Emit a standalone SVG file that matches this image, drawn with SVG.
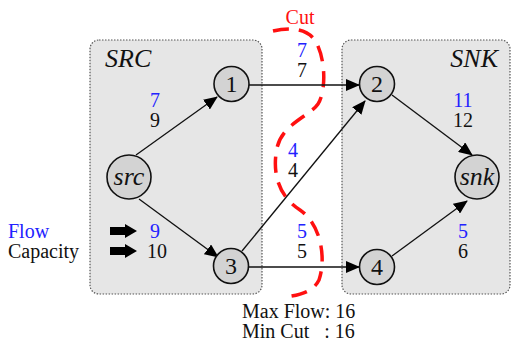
<svg xmlns="http://www.w3.org/2000/svg" width="512" height="347" viewBox="0 0 512 347" font-family="'Liberation Serif', 'DejaVu Serif', serif">
<style>
.box{fill:#e6e6e6;stroke:#555;stroke-width:1.2;stroke-dasharray:1.5 1.5}
.node{fill:#d3d3d3;stroke:#111;stroke-width:1.6}
.edge{stroke:#111;stroke-width:1.3;fill:none;marker-end:url(#ah)}
text{font-family:'Liberation Serif','DejaVu Serif',serif}
.t{font-size:20px;fill:#111}
.b{fill:#2222ff}
.nl{font-size:24px;fill:#111;text-anchor:middle}
.it{font-style:italic}
.big{font-size:26px}
.cut{fill:none;stroke:#ff1010;stroke-width:3.5;stroke-dasharray:16 10}
</style>
<defs>
<marker id="ah" markerUnits="userSpaceOnUse" markerWidth="14" markerHeight="12" refX="13" refY="6" orient="auto">
<path d="M0,0 L14,6 L0,12 Z" fill="#000"/>
</marker>
</defs>
<rect width="512" height="347" fill="#fff"/>
<g id="SRC">
<rect class="box" x="90" y="40" width="172" height="254" rx="9"/>
<text class="t it big" x="105" y="67">SRC</text>
</g>
<g id="SNK">
<rect class="box" x="342" y="40" width="168" height="254" rx="9"/>
<text class="t it big" x="498" y="67" text-anchor="end">SNK</text>
</g>
<g id="cut">
<path class="cut" d="M273,31 C290,27 308,28 316,42 C326,60 326,92 318,104 C310,116 282,124 277,148 C272,172 278,196 300,210 C322,225 326,260 319,280 C313,292 300,295 285,297"/>
<text class="t" x="300" y="24" text-anchor="middle" style="fill:#ff1010">Cut</text>
</g>
<g id="connectors">
<line class="edge" x1="136" y1="155" x2="217" y2="97"/>
<line class="edge" x1="139" y1="199" x2="218" y2="257"/>
<line class="edge" x1="249" y1="85" x2="359" y2="85"/>
<line class="edge" x1="242" y1="251" x2="365" y2="101"/>
<line class="edge" x1="249" y1="267" x2="359" y2="267"/>
<line class="edge" x1="392" y1="95" x2="472" y2="155"/>
<line class="edge" x1="392" y1="256" x2="467" y2="201"/>
</g>
<g id="labels">
<text class="t b" x="155" y="107" text-anchor="middle">7</text>
<text class="t" x="155" y="127" text-anchor="middle">9</text>
<text class="t b" x="302" y="57" text-anchor="middle">7</text>
<text class="t" x="302" y="77" text-anchor="middle">7</text>
<text class="t b" x="463" y="107" text-anchor="middle">11</text>
<text class="t" x="463" y="127" text-anchor="middle">12</text>
<text class="t b" x="293" y="157" text-anchor="middle">4</text>
<text class="t" x="293" y="177" text-anchor="middle">4</text>
<text class="t b" x="302" y="238" text-anchor="middle">5</text>
<text class="t" x="302" y="258" text-anchor="middle">5</text>
<text class="t b" x="463" y="238" text-anchor="middle">5</text>
<text class="t" x="463" y="258" text-anchor="middle">6</text>
</g>
<g id="legend">
<path d="M110,227 H125 V224 L137,231 L125,238 V235 H110 Z" fill="#000"/>
<path d="M110,247 H125 V244 L137,251 L125,258 V255 H110 Z" fill="#000"/>
<text class="t b" x="155" y="238" text-anchor="middle">9</text>
<text class="t" x="157" y="258" text-anchor="middle">10</text>
<text class="t b" x="8" y="238">Flow</text>
<text class="t" x="8" y="258">Capacity</text>
</g>
<g id="n_src"><circle class="node" cx="129" cy="177" r="22"/><text class="nl it big" x="129" y="185">src</text></g>
<g id="n1"><circle class="node" cx="231.5" cy="84" r="17.5"/><text class="nl" x="231.5" y="92">1</text></g>
<g id="n2"><circle class="node" cx="377" cy="84" r="17.5"/><text class="nl" x="377" y="92">2</text></g>
<g id="n3"><circle class="node" cx="231" cy="266" r="17.5"/><text class="nl" x="231" y="274">3</text></g>
<g id="n4"><circle class="node" cx="377" cy="267" r="17.5"/><text class="nl" x="377" y="275">4</text></g>
<g id="n_snk"><circle class="node" cx="477" cy="177" r="22"/><text class="nl it big" x="477" y="185">snk</text></g>
<g id="result">
<text class="t" x="242" y="318">Max Flow: 16</text>
<text class="t" x="242" y="338" style="white-space:pre">Min Cut   : 16</text>
</g>
</svg>
